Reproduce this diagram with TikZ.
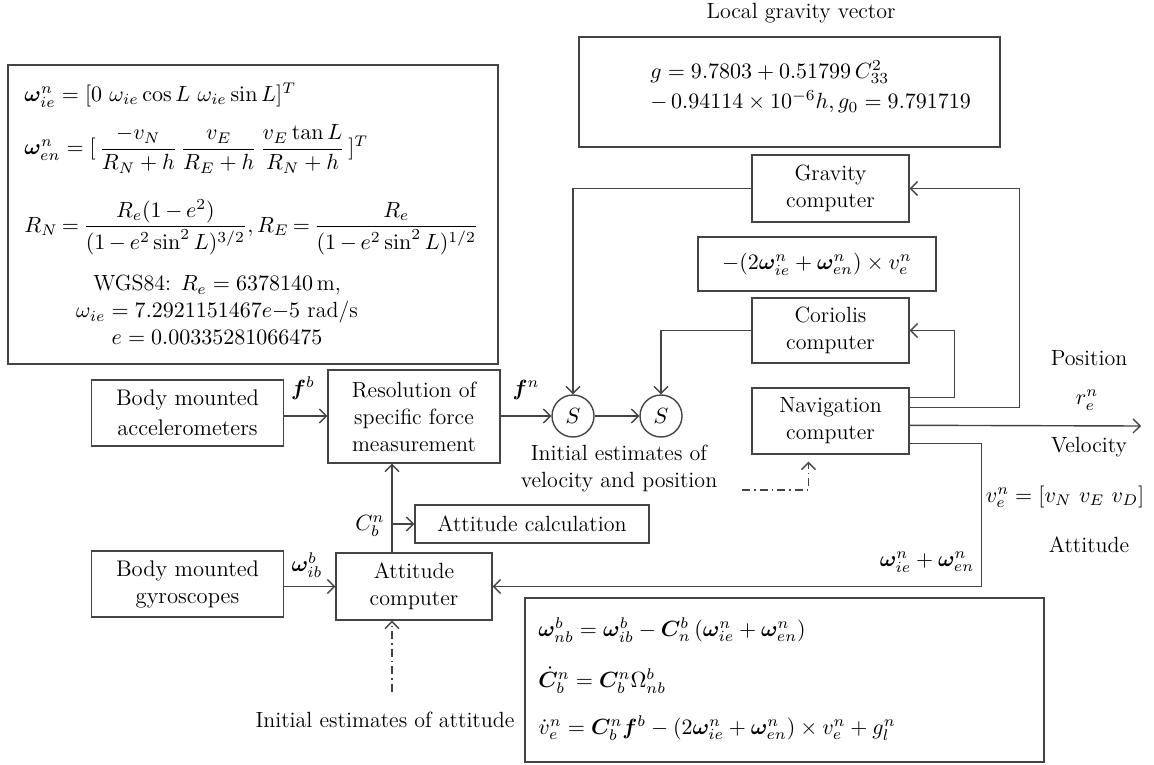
\RequirePackage{fix-cm}
\documentclass[tikz,border=0pt]{standalone}
\usepackage{amsmath,bm}
\usetikzlibrary{arrows.meta,calc}
\definecolor{lc}{HTML}{444444}
\tikzset{
  base/.style={font=\fontsize{11}{13.5}\selectfont},
  box/.style={base, draw=lc, line width=0.7pt, align=center, inner sep=2pt},
  frame/.style={draw=lc, line width=0.7pt},
  lbl/.style={base, inner sep=1pt},
  conn/.style={draw=lc, line width=0.7pt},
  arr/.style={conn, -{Straight Barb[length=3.5pt,width=7pt]}},
  dd/.style={arr, dash pattern=on 4pt off 2pt on 0.8pt off 2pt}
}
\begin{document}
\begin{tikzpicture}[x=0.5pt,y=-0.5pt]
\useasboundingbox (0,0) rectangle (1154,764);
% frames
\coordinate (lbox1) at (8,65);    \coordinate (lbox2) at (498,364);
\coordinate (gbox1) at (579,37);  \coordinate (gbox2) at (1000,147);
\coordinate (bbox1) at (525,598); \coordinate (bbox2) at (1044,762);
\draw[frame] (lbox1) rectangle (lbox2);
\draw[frame] (gbox1) rectangle (gbox2);
\draw[frame] (bbox1) rectangle (bbox2);
% left formulas
\node[lbl, anchor=west] (lf1) at (22,95) {$\bm\omega_{ie}^n = [0\ \omega_{ie}\cos L\ \omega_{ie}\sin L]^T$};
\node[lbl, anchor=west] (lf2) at (22,149) {$\bm\omega_{en}^n = [\,\dfrac{-v_N}{R_N+h}\,\dfrac{v_E}{R_E+h}\,\dfrac{v_E\tan L}{R_N+h}\,]^T$};
\node[lbl, anchor=west] (lf3) at (22,227) {\thickmuskip=3.5mu\medmuskip=3mu$R_N = \dfrac{R_e(1-e^2)}{(1-e^2\sin^2 L)^{3/2}}, R_E = \dfrac{R_e}{(1-e^2\sin^2 L)^{1/2}}$};
\node[lbl, align=center] (lf4) at (217,310) {WGS84: $R_e = 6378140\,$m,\\ $\omega_{ie} = 7.2921151467e{-}5$ rad/s\\ $e = 0.00335281066475$};
% gravity formula
\node[lbl] (gt) at (801,13) {Local gravity vector};
\node[lbl, anchor=west] (gf1) at (648,72) {$g = 9.7803 + 0.51799\, C_{33}^2$};
\node[lbl, anchor=west] (gf2) at (648,102) {$-\,0.94114\times 10^{-6}h, g_0 = 9.791719$};
% bottom formulas
\node[lbl, anchor=west] (bf1) at (536,630) {$\bm\omega_{nb}^b = \bm\omega_{ib}^b - \bm C_n^b\,(\bm\omega_{ie}^n + \bm\omega_{en}^n)$};
\node[lbl, anchor=west] (bf2) at (536,680) {$\dot{\bm C}_b^n = \bm C_b^n\Omega_{nb}^b$};
\node[lbl, anchor=west] (bf3) at (536,728) {$\dot v_e^n = \bm C_b^n\bm f^b - (2\bm\omega_{ie}^n + \bm\omega_{en}^n)\times v_e^n + g_l^n$};
% blocks
\node[box, minimum width=95.75pt, minimum height=33pt, font=\fontsize{11.3}{15}\selectfont] (acc) at (187.5,413) {Body mounted\\accelerometers};
\node[box, minimum width=86pt, minimum height=46.5pt] (res) at (414,416.5) {Resolution of\\specific force\\measurement};
\node[box, circle, minimum size=21pt, inner sep=0pt] (s1) at (573,416) {$S$};
\node[box, circle, minimum size=21pt, inner sep=0pt] (s2) at (661,416) {$S$};
\node[box, minimum width=78.5pt, minimum height=33.5pt] (grav) at (830.5,188.5) {Gravity\\computer};
\node[box, minimum width=119pt, minimum height=27pt] (corf) at (817,264) {$-(2\bm\omega_{ie}^n + \bm\omega_{en}^n)\times v_e^n$};
\node[box, minimum width=78.5pt, minimum height=32.5pt] (cor) at (830.5,330.5) {Coriolis\\computer};
\node[box, minimum width=78.5pt, minimum height=33pt] (nav) at (830.5,421) {Navigation\\computer};
\node[box, minimum width=95.75pt, minimum height=33pt, font=\fontsize{11.3}{13.5}\selectfont] (gyro) at (187.5,584) {Body mounted\\gyroscopes};
\node[box, minimum width=78pt, minimum height=33.5pt] (attc) at (414,586.5) {Attitude\\computer};
\node[box, minimum width=117pt, minimum height=19pt] (attcalc) at (532,524) {Attitude calculation};
% labels
\node[lbl] (lfb) at (303,388) {$\bm f^b$};
\node[lbl] (lfn) at (526,390) {$\bm f^n$};
\node[lbl] (lwib) at (307,565) {$\bm\omega_{ib}^b$};
\node[lbl] (lcbn) at (370,526) {$C_b^n$};
\node[lbl, align=center] (liv) at (619,468) {Initial estimates of\\velocity and position};
\node[lbl] (lia) at (385,720) {Initial estimates of attitude};
\node[lbl] (lpos) at (1089,358) {Position};
\node[lbl] (lre) at (1087,400) {$r_e^n$};
\node[lbl] (lvel) at (1089,447) {Velocity};
\node[lbl] (lve) at (1065,497) {$v_e^n = [v_N\ v_E\ v_D]$};
\node[lbl] (latt) at (1089,545) {Attitude};
\node[lbl] (lww) at (927,562) {$\bm\omega_{ie}^n + \bm\omega_{en}^n$};
% coordinates
\coordinate (n1) at ($(nav.north east)+(0,10)$);
\coordinate (n2) at ($(nav.north east)+(0,20)$);
\coordinate (n3) at ($(nav.north east)+(0,38)$);
\coordinate (n4) at ($(nav.north east)+(0,56)$);
\coordinate (out) at (1141,426);
\coordinate (cb) at (392,524);
\coordinate (ia) at (392,692);
\coordinate (iv) at (742,490);
% connectors
\draw[arr] (acc.east |- s1) -- (res.west |- s1);
\draw[arr] (res.east |- s1) -- (s1);
\draw[arr] (s1) -- (s2);
\draw[arr] (grav.west) -| (s1.north);
\draw[arr] (cor.west) -| (s2.north);
\draw[arr] (n1) -| ($(cor.east)+(45,0)$) -- (cor.east);
\draw[arr] (n2) -| ($(grav.east)+(110,0)$) -- (grav.east);
\draw[arr] (n3) -- (out);
\draw[arr] (n4) -| ($(attc.east)+(489,0)$) -- (attc.east);
\draw[arr] (gyro.east |- attc) -- (attc.west);
\draw[arr] (attc.north -| cb) -- (res.south -| cb);
\draw[arr] (cb) -- (attcalc.west);
\draw[dd] (ia) -- (attc.south -| ia);
\draw[dd] (iv) -| ($(nav.south)+(-22,7)$);
\end{tikzpicture}
\end{document}
